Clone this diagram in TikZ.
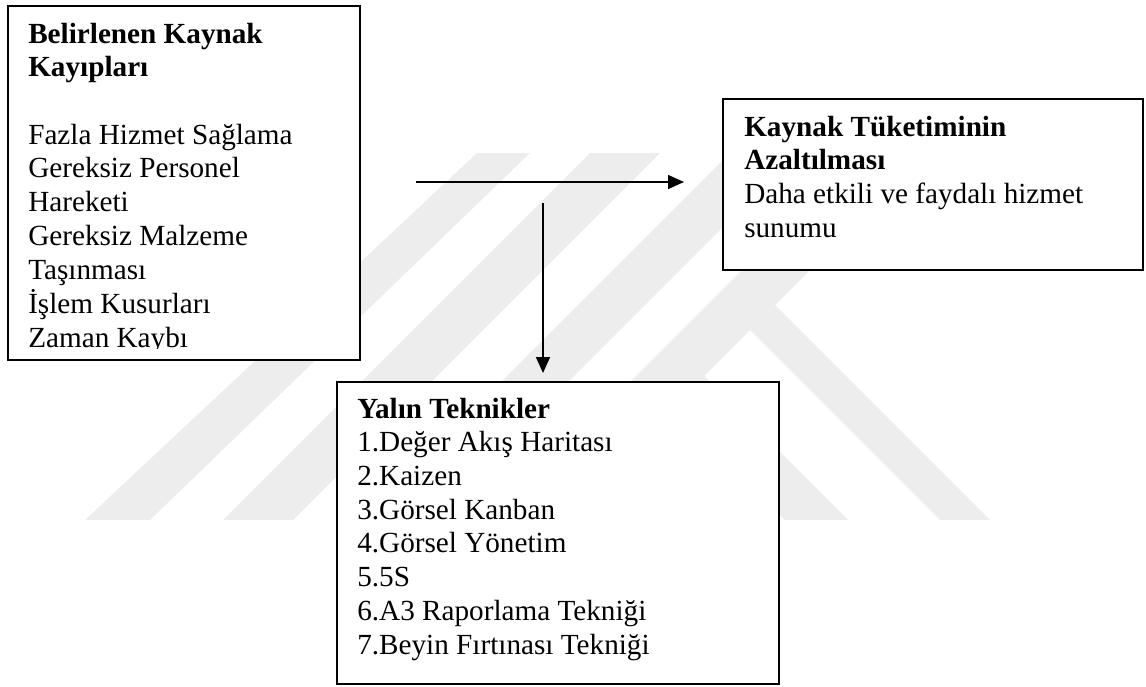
\documentclass[tikz,border=0pt]{standalone}
\usepackage{fontspec}
\setmainfont{Liberation Serif}
\usetikzlibrary{arrows.meta}

\begin{document}
\begin{tikzpicture}[x=0.75pt,y=-0.75pt,
  frame/.style={draw=black, line width=1.4pt, fill=white, inner sep=0pt, anchor=north west},
  body/.style={anchor=base west, inner sep=0pt, font=\fontsize{21.9}{25.3}\selectfont},
  link/.style={line width=1.1pt, -{Triangle[length=12pt,width=10.5pt]}},
  wmark/.style={fill=black!7, draw=none}]

\useasboundingbox (0,0) rectangle (1146,686);

% faint background emblem made of diagonal bands
\fill[wmark] (477,153) -- (530,153) -- (150,520) -- (85,520) -- cycle;
\fill[wmark] (590,153) -- (660,153) -- (293,520) -- (223,520) -- cycle;
\fill[wmark] (730,153) -- (797,153) -- (430,520) -- (363,520) -- cycle;
\fill[wmark] (859,153) -- (927,153) -- (560,520) -- (492,520) -- cycle;
\fill[wmark] (750,330) -- (775,305) -- (990,520) -- (940,520) -- cycle;
\fill[wmark] (672,408) -- (704,376) -- (848,520) -- (785,520) -- cycle;

% boxes
\node[frame, minimum width=264pt, minimum height=265.5pt] (lossBox) at (7,5) {};
\node[frame, minimum width=315pt, minimum height=128.25pt] (useBox) at (722,98) {};
\node[frame, minimum width=331.5pt, minimum height=226.5pt] (leanBox) at (336,381) {};

% box contents
\begin{scope}
  \clip (7,5) rectangle (359,348);
  \node[body] (lossText) at (28,43) {\begin{tabular}[t]{@{}l@{}}
    \textbf{Belirlenen Kaynak}\\
    \textbf{Kayıpları}\\
    \\
    Fazla Hizmet Sağlama\\
    Gereksiz Personel\\
    Hareketi\\
    Gereksiz Malzeme\\
    Taşınması\\
    İşlem Kusurları\\
    Zaman Kaybı
  \end{tabular}};
\end{scope}

\node[body] (useText) at (744,136) {\begin{tabular}[t]{@{}l@{}}
    \textbf{Kaynak Tüketiminin}\\
    \textbf{Azaltılması}\\
    Daha etkili ve faydalı hizmet\\
    sunumu
  \end{tabular}};

\node[body] (leanText) at (357,418) {\begin{tabular}[t]{@{}l@{}}
    \textbf{Yalın Teknikler}\\
    1.Değer Akış Haritası\\
    2.Kaizen\\
    3.Görsel Kanban\\
    4.Görsel Yönetim\\
    5.5S\\
    6.A3 Raporlama Tekniği\\
    7.Beyin Fırtınası Tekniği
  \end{tabular}};

% connectors
\coordinate (hStart) at (416,182);
\coordinate (hEnd) at (684,182);
\coordinate (vStart) at (543,203);
\coordinate (vEnd) at (543,373);
\draw[link] (hStart) -- (hEnd);
\draw[link] (vStart) -- (vEnd);

\end{tikzpicture}
\end{document}
